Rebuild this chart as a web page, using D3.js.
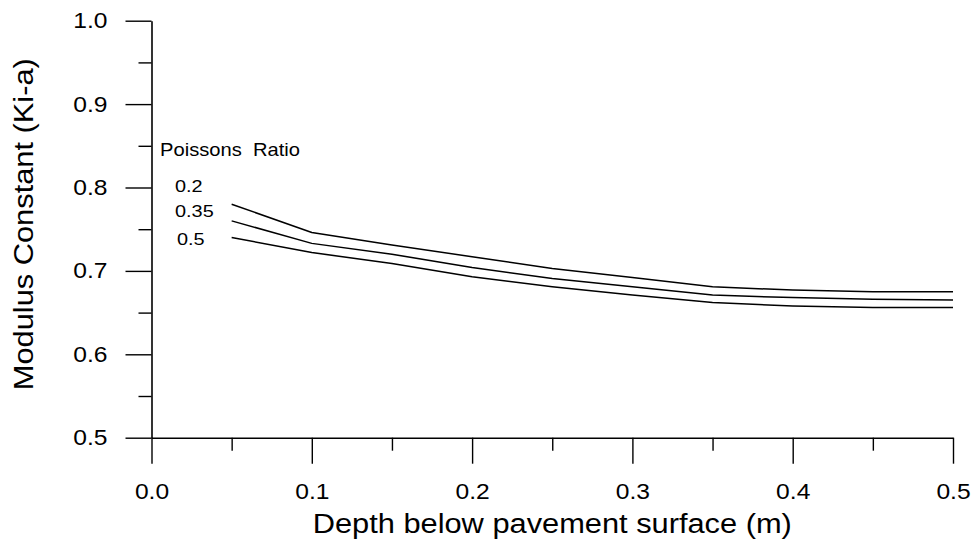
<!DOCTYPE html>
<html>
<head>
<meta charset="utf-8">
<script src="https://cdn.jsdelivr.net/npm/d3@7"></script>
<style>
  html, body { margin: 0; padding: 0; background: #fff; }
  svg { display: block; }
  text { font-family: "Liberation Sans", Arial, Helvetica, sans-serif; fill: #000; }
</style>
</head>
<body>
<svg id="chart" width="973" height="540"></svg>
<script>
// Depth below pavement surface (m)
const depths = [0.05, 0.10, 0.15, 0.20, 0.25, 0.30, 0.35, 0.40, 0.45, 0.50];

// Modulus constant Ki-a for each Poisson's ratio
const kPoisson020 = [0.780, 0.746, 0.731, 0.717, 0.703, 0.692, 0.681, 0.677, 0.675, 0.675];
const kPoisson035 = [0.760, 0.733, 0.720, 0.704, 0.691, 0.681, 0.671, 0.668, 0.666, 0.665];
const kPoisson050 = [0.740, 0.722, 0.709, 0.693, 0.681, 0.671, 0.662, 0.658, 0.656, 0.656];

const seriesNames = ["0.2", "0.35", "0.5"];
const legendTitle = "Poissons  Ratio";

const xMajorTicks = [0.0, 0.1, 0.2, 0.3, 0.4, 0.5];
const xMinorTicks = [0.05, 0.15, 0.25, 0.35, 0.45];
const yMajorTicks = [0.5, 0.6, 0.7, 0.8, 0.9, 1.0];
const yMinorTicks = [0.55, 0.65, 0.75, 0.85, 0.95];

const xTitle = "Depth below pavement surface (m)";
const yTitle = "Modulus Constant (Ki-a)";

// Layout
const plotLeft = 151.5, plotRight = 953, plotTop = 20.7, plotBottom = 437.7;
const majorLen = 26, minorLen = 13;
const stretch = 1.12;   // glyphs are drawn slightly wide

const svg = d3.select("#chart");

const x = d3.scaleLinear().domain([0, 0.5]).range([plotLeft, plotRight]);
const y = d3.scaleLinear().domain([0.5, 1.0]).range([plotBottom, plotTop]);

function styleAxis(g) {
  g.selectAll("path.domain").attr("stroke", "#000").attr("stroke-width", 1.6);
  g.selectAll(".tick line").attr("stroke", "#000").attr("stroke-width", 1.4);
}

// minor ticks
svg.append("g")
  .attr("transform", `translate(0,${plotBottom})`)
  .call(d3.axisBottom(x).tickValues(xMinorTicks).tickSize(minorLen).tickSizeOuter(0).tickFormat(""))
  .call(styleAxis)
  .call(g => g.select("path.domain").remove());
svg.append("g")
  .attr("transform", `translate(${plotLeft},0)`)
  .call(d3.axisLeft(y).tickValues(yMinorTicks).tickSize(minorLen).tickSizeOuter(0).tickFormat(""))
  .call(styleAxis)
  .call(g => g.select("path.domain").remove());

// major x axis
const xAxis = svg.append("g")
  .attr("transform", `translate(0,${plotBottom})`)
  .call(d3.axisBottom(x).tickValues(xMajorTicks).tickSize(majorLen).tickSizeOuter(0)
        .tickPadding(20).tickFormat(d3.format(".1f")))
  .call(styleAxis);
xAxis.selectAll("text")
  .attr("font-size", 22)
  .attr("transform", `scale(${stretch},1)`);

// major y axis
const yAxis = svg.append("g")
  .attr("transform", `translate(${plotLeft},0)`)
  .call(d3.axisLeft(y).tickValues(yMajorTicks).tickSize(majorLen).tickSizeOuter(0)
        .tickPadding(18).tickFormat(d3.format(".1f")))
  .call(styleAxis);
yAxis.selectAll("text")
  .attr("font-size", 22)
  .attr("x", -(majorLen + 18) / stretch)
  .attr("transform", `scale(${stretch},1)`);
xAxis.attr("font-family", null);
yAxis.attr("font-family", null);

// axis titles
svg.append("text")
  .attr("transform", `translate(${(plotLeft + plotRight) / 2},533) scale(1.1,1)`)
  .attr("text-anchor", "middle")
  .attr("font-size", 28)
  .text(xTitle);

svg.append("text")
  .attr("transform", `translate(33,${(plotTop + plotBottom) / 2 - 5}) rotate(-90) scale(1.1,1)`)
  .attr("text-anchor", "middle")
  .attr("font-size", 28)
  .text(yTitle);

// curves
const series = [kPoisson020, kPoisson035, kPoisson050];
const line = d3.line()
  .x((d, i) => x(depths[i]))
  .y(d => y(d));

svg.append("g")
  .selectAll("path")
  .data(series)
  .join("path")
  .attr("d", line)
  .attr("fill", "none")
  .attr("stroke", "#000")
  .attr("stroke-width", 1.5)
  .attr("stroke-linejoin", "round");

// legend
svg.append("text")
  .attr("transform", `translate(160,156) scale(${stretch},1)`)
  .attr("font-size", 18)
  .style("white-space", "pre")
  .text(legendTitle);

const legendPos = [[175, 192], [175, 217], [177, 245]];
svg.append("g")
  .selectAll("text")
  .data(seriesNames)
  .join("text")
  .attr("transform", (d, i) => `translate(${legendPos[i][0]},${legendPos[i][1]}) scale(1.17,1)`)
  .attr("font-size", 17)
  .text(d => d);
</script>
</body>
</html>
